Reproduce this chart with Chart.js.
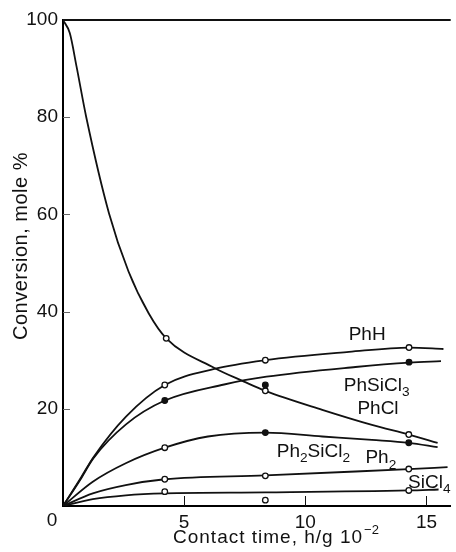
<!DOCTYPE html>
<html>
<head>
<meta charset="utf-8">
<script src="https://cdn.jsdelivr.net/npm/chart.js@4/dist/chart.umd.min.js"></script>
<style>
  html, body { margin: 0; padding: 0; background: #fff; }
  #wrap { width: 456px; height: 552px; position: relative; }
</style>
</head>
<body>
<div id="wrap"><canvas id="chart"></canvas></div>
<script>
// smooth curves: [contact time (h/g 10^-2), conversion (mole %)]
const phhCurve = [[0, 0], [0.7, 5.5], [1.25, 10], [2.6, 18.4], [4.2, 24.9], [6.25, 28.2], [8.35, 30.0], [11.8, 31.7], [14.3, 32.6], [15.7, 32.3]];
const phsicl3Curve = [[0, 0], [0.7, 5.3], [1.25, 9.8], [2.6, 16.8], [4.2, 21.7], [6.65, 25.0], [8.4, 26.6], [12.07, 28.6], [14.3, 29.5], [15.6, 29.8]];
const phclCurve = [[0, 100], [0.28, 97.3], [0.56, 90.4], [0.96, 80], [1.9, 60.2], [2.7, 48.3], [3.54, 39.6], [4.26, 34.5], [6.25, 28.4], [7.47, 25.6], [8.35, 23.7], [10.7, 19.8], [12.75, 16.7], [14.27, 14.7], [15.46, 13.0]];
const ph2sicl2Curve = [[0, 0], [1.23, 5.0], [2.59, 8.8], [4.2, 12.0], [5.98, 14.3], [8.35, 15.1], [10.7, 14.3], [12.75, 13.6], [14.27, 13.0], [15.46, 12.1]];
const ph2Curve = [[0, 0], [1.23, 2.6], [2.59, 4.3], [4.2, 5.5], [8.35, 6.3], [12.07, 7.1], [14.27, 7.6], [15.87, 8.0]];
const sicl4Curve = [[0, 0], [1.23, 1.4], [2.59, 2.2], [4.2, 2.6], [8.35, 2.8], [14.27, 3.2], [15.5, 3.4]];

// measured points
const phhPoints = [[4.2, 24.9], [8.35, 30.0], [14.28, 32.6]];
const phsicl3Points = [[4.2, 21.7], [8.35, 24.9], [14.28, 29.6]];
const phclPoints = [[4.26, 34.5], [8.35, 23.7], [14.27, 14.7]];
const ph2sicl2Points = [[4.2, 12.0], [8.35, 15.1], [14.27, 13.0]];
const ph2Points = [[4.2, 5.5], [8.35, 6.2], [14.27, 7.6]];
const sicl4Points = [[4.2, 2.95], [8.35, 1.2], [14.27, 3.2]];

// curve names (digits are written as subscripts)
const curveNames = ['PhH', 'PhSiCl3', 'PhCl', 'Ph2SiCl2', 'Ph2', 'SiCl4'];
// where each name sits (left edge / baseline, in data units)
const nameAnchors = [[11.79, 34.2], [11.59, 23.7], [12.15, 18.9], [8.82, 10.1], [12.48, 8.8], [14.24, 3.7]];

const xTicks = [0, 5, 10, 15];
const yTicks = [0, 20, 40, 60, 80, 100];

const FONT = "'Liberation Sans', Arial, sans-serif";
const INK = '#111';

const toXY = arr => arr.map(p => ({ x: p[0], y: p[1] }));

// a smooth line, no dots
const curve = (data) => ({
    type: 'line',
    data: toXY(data),
    borderColor: INK,
    borderWidth: 1.8,
    pointRadius: 0,
    cubicInterpolationMode: 'monotone',
    fill: false,
    order: 2
});

// circles on top of the lines
const marks = (data, fill) => ({
    type: 'scatter',
    data: toXY(data),
    showLine: false,
    pointRadius: 2.8,
    pointBorderWidth: 1.3,
    pointBorderColor: INK,
    pointBackgroundColor: fill,
    order: 1
});

// text with digits lowered as subscripts
function drawChem(ctx, text, x, y, size) {
    let cx = x;
    for (const ch of text) {
        const sub = /[0-9]/.test(ch);
        ctx.font = (sub ? size * 0.72 : size) + 'px ' + FONT;
        ctx.fillText(ch, cx, sub ? y + size * 0.28 : y);
        cx += ctx.measureText(ch).width;
    }
}

const decorations = {
    id: 'decorations',
    afterDraw(chart) {
        const ctx = chart.ctx;
        const area = chart.chartArea;
        const xs = chart.scales.x;
        const ys = chart.scales.y;
        ctx.save();
        ctx.fillStyle = INK;
        ctx.strokeStyle = INK;

        // frame top
        ctx.lineWidth = 2;
        ctx.beginPath();
        ctx.moveTo(area.left, area.top);
        ctx.lineTo(area.right, area.top);
        ctx.stroke();

        // tick marks pointing inwards
        ctx.lineWidth = 1;
        ctx.strokeStyle = '#666';
        yTicks.filter(v => v > 0 && v < 100).forEach(v => {
            const py = Math.round(ys.getPixelForValue(v)) + 0.5;
            ctx.beginPath();
            ctx.moveTo(area.left, py);
            ctx.lineTo(area.left + 7, py);
            ctx.stroke();
        });
        ctx.strokeStyle = INK;
        xTicks.filter(v => v > 0).forEach(v => {
            const px = Math.round(xs.getPixelForValue(v)) + 0.5;
            ctx.beginPath();
            ctx.moveTo(px, area.bottom);
            ctx.lineTo(px, area.bottom - 10);
            ctx.stroke();
        });

        // shared zero in the corner
        ctx.font = '19px ' + FONT;
        ctx.textAlign = 'center';
        ctx.textBaseline = 'alphabetic';
        ctx.fillText('0', area.left - 11, area.bottom + 20);

        // x title with superscript
        ctx.textAlign = 'left';
        ctx.font = '19px ' + FONT;
        ctx.letterSpacing = '1px';
        const xt = 'Contact time, h/g 10';
        const xw = ctx.measureText(xt).width;
        const x0 = 173;
        ctx.fillText(xt, x0, area.bottom + 37);
        ctx.font = '13px ' + FONT;
        ctx.letterSpacing = '0px';
        ctx.fillText('\u22122', x0 + xw + 1, area.bottom + 28);

        // y title, rotated
        ctx.save();
        ctx.translate(27, 246);
        ctx.rotate(-Math.PI / 2);
        ctx.textAlign = 'center';
        ctx.font = '20px ' + FONT;
        ctx.letterSpacing = '0.5px';
        ctx.fillText('Conversion, mole %', 0, 0);
        ctx.restore();

        // curve names
        ctx.textAlign = 'left';
        ctx.letterSpacing = '0px';
        curveNames.forEach((name, i) => {
            const px = xs.getPixelForValue(nameAnchors[i][0]);
            const py = ys.getPixelForValue(nameAnchors[i][1]);
            drawChem(ctx, name, px, py, 19);
        });

        ctx.restore();
    }
};

new Chart(document.getElementById('chart').getContext('2d'), {
    type: 'line',
    data: {
        datasets: [
            curve(phhCurve),
            curve(phsicl3Curve),
            curve(phclCurve),
            curve(ph2sicl2Curve),
            curve(ph2Curve),
            curve(sicl4Curve),
            marks(phhPoints, '#fff'),
            marks(phsicl3Points, INK),
            marks(phclPoints, '#fff'),
            marks(ph2sicl2Points, ['#fff', INK, INK]),
            marks(ph2Points, '#fff'),
            marks(sicl4Points, '#fff')
        ]
    },
    options: {
        responsive: true,
        maintainAspectRatio: false,
        animation: false,
        layout: { padding: { top: 20, right: 0, bottom: 0, left: 0 } },
        plugins: { legend: { display: false }, tooltip: { enabled: false } },
        scales: {
            x: {
                type: 'linear',
                min: 0,
                max: 16,
                afterBuildTicks: s => { s.ticks = xTicks.map(v => ({ value: v })); },
                afterFit: s => { s.height = 46; },
                grid: { display: false, drawTicks: false },
                border: { display: true, color: '#000', width: 2 },
                ticks: {
                    callback: v => (v === 0 ? '' : v),
                    color: INK,
                    padding: 5,
                    maxRotation: 0,
                    font: { family: FONT, size: 19 }
                }
            },
            y: {
                min: 0,
                max: 100,
                afterBuildTicks: s => { s.ticks = yTicks.map(v => ({ value: v })); },
                afterFit: s => { s.width = 63; },
                grid: { display: false, drawTicks: false },
                border: { display: true, color: '#000', width: 2 },
                ticks: {
                    callback: v => (v === 0 ? '' : v),
                    color: INK,
                    padding: 5,
                    font: { family: FONT, size: 19 }
                }
            }
        }
    },
    plugins: [decorations]
});
</script>
</body>
</html>
